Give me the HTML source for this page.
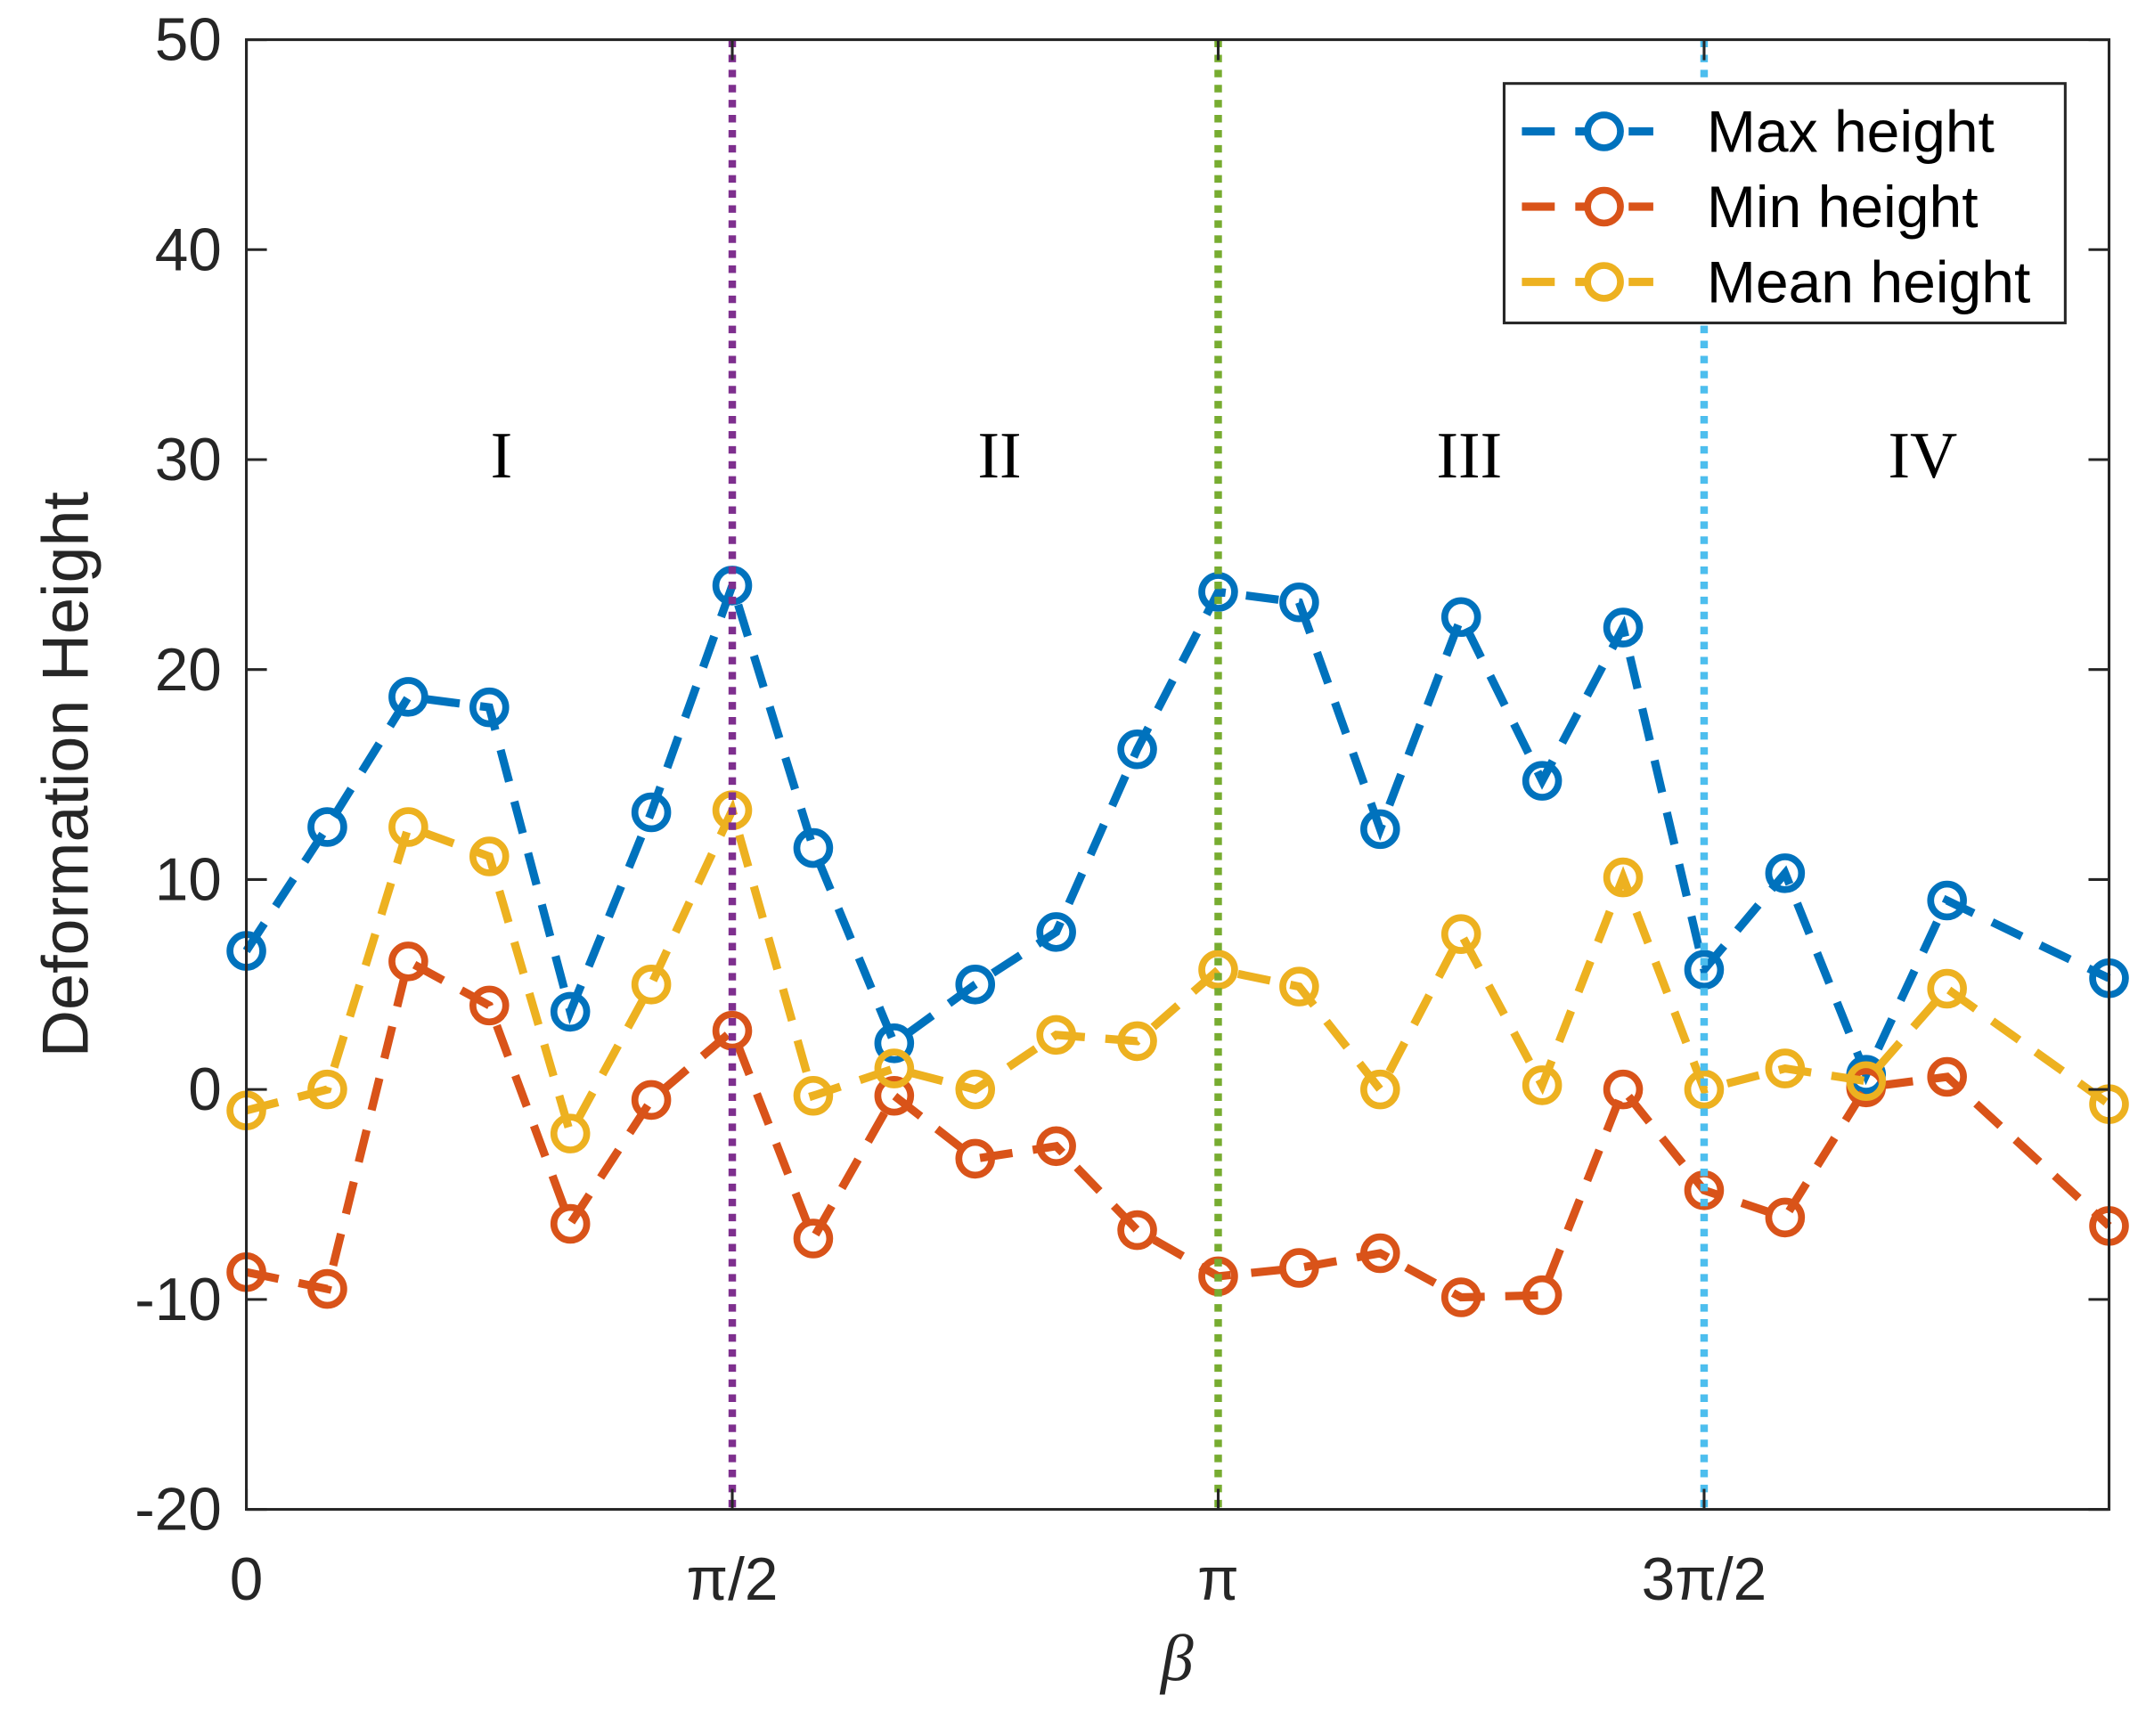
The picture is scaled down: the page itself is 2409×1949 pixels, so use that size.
<!DOCTYPE html>
<html><head><meta charset="utf-8"><style>html,body{margin:0;padding:0;background:#fff}svg{display:block}</style></head>
<body>
<svg id="chart" width="2409" height="1949" viewBox="0 0 1568 1268.6" xmlns="http://www.w3.org/2000/svg" font-family="'Liberation Sans', sans-serif">
<rect width="1568" height="1268.6" fill="#fff"/>
<g id="plot"></g>
</svg>
<script>
const xIndex = [0,1,2,3,4,5,6,7,8,9,10,11,12,13,14,15,16,17,18,19,20,21,23];
const maxHeight = [6.6,12.5,18.7,18.2,3.7,13.2,24.0,11.5,2.2,5.0,7.5,16.2,23.7,23.2,12.4,22.5,14.7,22.0,5.7,10.3,0.7,9.0,5.3];
const minHeight = [-8.7,-9.5,6.1,4.0,-6.4,-0.5,2.8,-7.1,-0.3,-3.3,-2.7,-6.7,-8.9,-8.5,-7.8,-9.9,-9.8,0.0,-4.8,-6.1,0.1,0.6,-6.5];
const meanHeight = [-1.0,0.0,12.5,11.1,-2.1,5.0,13.3,-0.3,1.0,0.0,2.6,2.3,5.7,4.9,0.0,7.4,0.2,10.1,0.0,1.0,0.4,4.8,-0.7];
const yTicks = [-20,-10,0,10,20,30,40,50];
const xTickPos = [0,6,12,18];
const xTickLabels = ['0','\u03C0/2','\u03C0','3\u03C0/2'];
const regionLabels = ['I','II','III','IV'];
const regionPos = [3.15,9.3,15.1,20.7];
const vlinePos = [6,12,18];

const L=180,R=1541,T=29,B=1103;
const xs=i=>L+(R-L)*i/23;
const ys=v=>B-(B-T)*(v+20)/70;
const NS='http://www.w3.org/2000/svg';
const g=document.getElementById('plot');
function mk(tag,at,parent){const e=document.createElementNS(NS,tag);for(const k in at)e.setAttribute(k,at[k]);(parent||g).appendChild(e);return e;}

// series
const series=[[maxHeight,'#0072BD','max-height'],[minHeight,'#D95319','min-height'],[meanHeight,'#EDB120','mean-height']];
series.forEach(([d,c,n])=>{
 const sg=mk('g',{});
 
 
 const pts=d.map((v,i)=>xs(xIndex[i])+','+ys(v)).join(' ');
 mk('polyline',{points:pts,fill:'none',stroke:c,'stroke-width':6,'stroke-dasharray':'24 15'},sg);
 d.forEach((v,i)=>{
  const m=mk('circle',{cx:xs(xIndex[i]),cy:ys(v),r:12,fill:'none',stroke:c,'stroke-width':5},sg);
  
  
 });
});
// vertical region lines
const vcol=['#7E2F8E','#77AC30','#4DBEEE'];
vlinePos.forEach((p,i)=>{
 const l=mk('line',{x1:xs(p),x2:xs(p),y1:T,y2:B,stroke:vcol[i],'stroke-width':5.5,'stroke-dasharray':'5.5 5.5'});
 
 
});
// axes box
const ax=mk('rect',{x:L,y:T,width:R-L,height:B-T,fill:'none',stroke:'#262626','stroke-width':2});


yTicks.forEach(v=>{
 const y=ys(v);
 mk('line',{x1:L,x2:L+15,y1:y,y2:y,stroke:'#262626','stroke-width':2});
 mk('line',{x1:R,x2:R-15,y1:y,y2:y,stroke:'#262626','stroke-width':2});
 const t=mk('text',{x:L-18,y:y+15,'text-anchor':'end','font-size':44,fill:'#262626'});
 t.textContent=v;
 
 
});
xTickPos.forEach((p,i)=>{
 const x=xs(p);
 mk('line',{x1:x,x2:x,y1:B,y2:B-15,stroke:'#262626','stroke-width':2});
 mk('line',{x1:x,x2:x,y1:T,y2:T+15,stroke:'#262626','stroke-width':2});
 const t=mk('text',{x:x,y:1169,'text-anchor':'middle','font-size':44,fill:'#262626'});
 t.textContent=xTickLabels[i];
 
 
});
regionLabels.forEach((s,i)=>{
 const t=mk('text',{x:xs(regionPos[i]),y:349,'text-anchor':'middle','font-size':48,fill:'#000','font-family':"'Liberation Serif', serif"});
 t.textContent=s;
 
 
});
const xl=mk('text',{x:860,y:1228,'text-anchor':'middle','font-size':48,'font-style':'italic',fill:'#262626','font-family':"'Liberation Serif', serif"});
xl.textContent='\u03B2';


const yl=mk('text',{x:0,y:0,'text-anchor':'middle','font-size':48,fill:'#262626',transform:'translate(64,566) rotate(-90)'});
yl.textContent='Deformation Height';


// legend
const lg=mk('g',{});


mk('rect',{x:1099,y:61,width:410,height:175,fill:'#fff',stroke:'#262626','stroke-width':2},lg);
const names=['Max height','Min height','Mean height'];
series.forEach(([d,c],i)=>{
 const y=96+i*55;
 const e=mk('g',{},lg);
 
 
 mk('line',{x1:1112,x2:1208,y1:y,y2:y,stroke:c,'stroke-width':6,'stroke-dasharray':'24 15'},e);
 mk('circle',{cx:1172,cy:y,r:12,fill:'#fff',stroke:c,'stroke-width':5},e);
 const t=mk('text',{x:1247,y:y+15,'font-size':43,fill:'#000'},e);
 t.textContent=names[i];
});
</script>
</body></html>
